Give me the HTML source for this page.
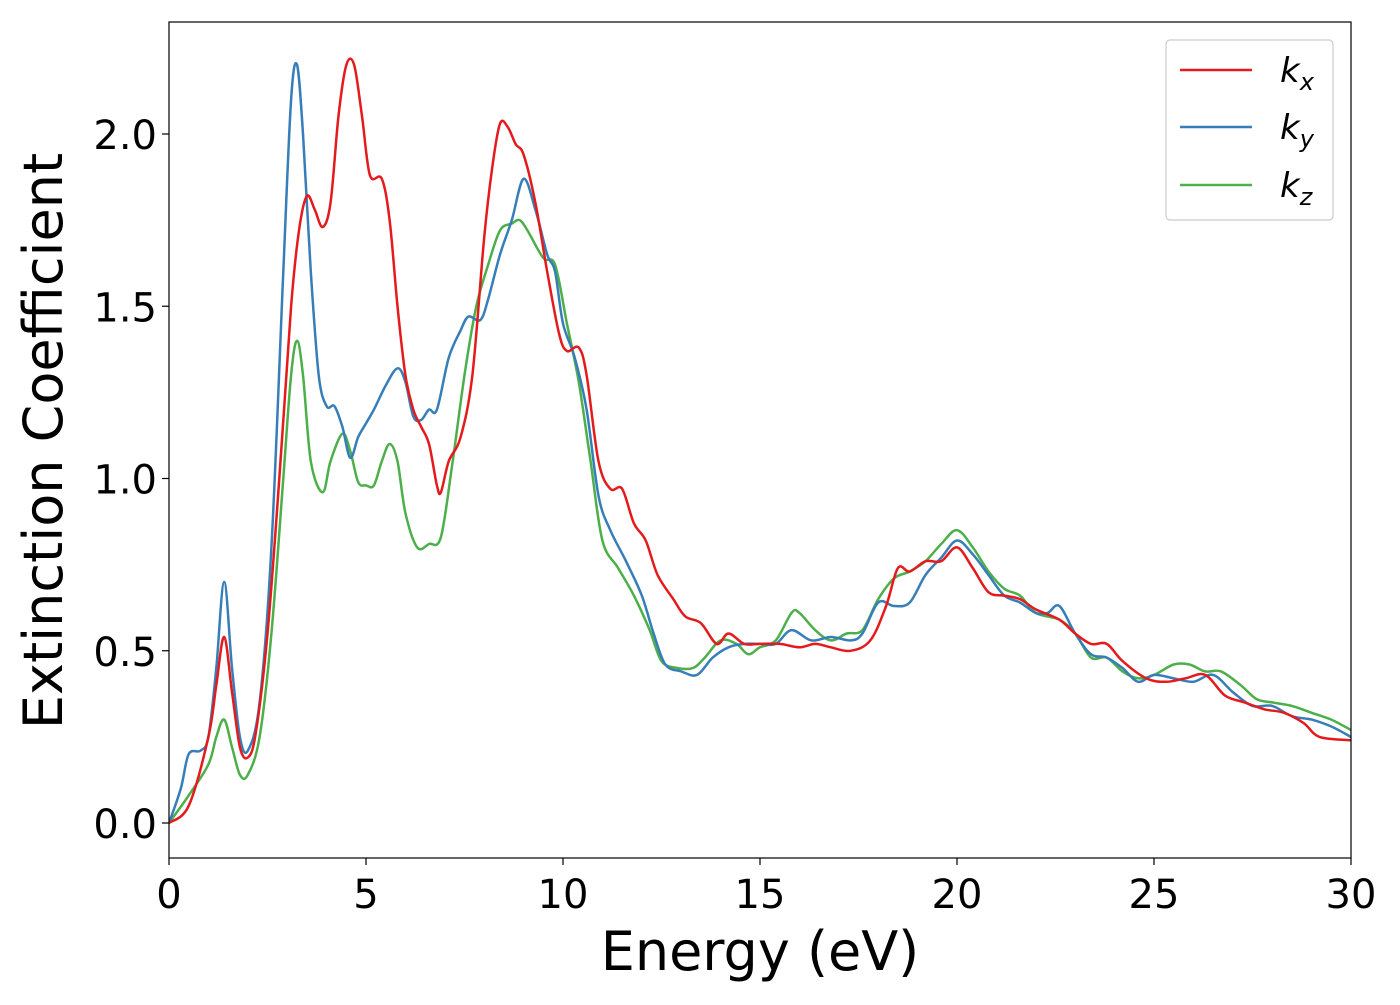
<!DOCTYPE html>
<html><head><meta charset="utf-8"><style>
body{margin:0;background:#fff;}
svg text{font-family:"DejaVu Sans","Liberation Sans",sans-serif;fill:#000;}
</style></head><body>
<svg width="1400" height="1000" viewBox="0 0 1400 1000" xmlns="http://www.w3.org/2000/svg">
<rect x="0" y="0" width="1400" height="1000" fill="#fff"/>
<g id="series"></g>
<rect x="169" y="22" width="1182" height="836" fill="none" stroke="#000" stroke-width="1.2"/>
<g id="xticks"></g>
<g id="yticks"></g>
<text x="760" y="970" font-size="54" text-anchor="middle">Energy (eV)</text>
<text transform="translate(62,441) rotate(-90)" font-size="54" text-anchor="middle">Extinction Coefficient</text>
<g>
<rect x="1166" y="40" width="167" height="180" rx="4" fill="#fff" fill-opacity="0.8" stroke="#ccc" stroke-width="1.2"/>
<line x1="1180" y1="70" x2="1252" y2="70" stroke="#e41a1c" stroke-width="2.5"/>
<text x="1280" y="82" font-size="34" font-style="italic">k<tspan font-size="24" dy="8">x</tspan></text>
<line x1="1180" y1="127" x2="1252" y2="127" stroke="#377eb8" stroke-width="2.5"/>
<text x="1280" y="139" font-size="34" font-style="italic">k<tspan font-size="24" dy="8">y</tspan></text>
<line x1="1180" y1="185" x2="1252" y2="185" stroke="#4daf4a" stroke-width="2.5"/>
<text x="1280" y="197" font-size="34" font-style="italic">k<tspan font-size="24" dy="8">z</tspan></text>
</g>
</svg>
<script>
const xTicks=[0,5,10,15,20,25,30];
const yTicks=[0.0,0.5,1.0,1.5,2.0];
const kxE=[0,0.5,1.0,1.2,1.4,1.6,1.8,2.0,2.2,2.5,2.8,3.1,3.3,3.5,3.7,3.9,4.1,4.3,4.5,4.7,4.9,5.1,5.4,5.6,5.8,6.0,6.2,6.4,6.6,6.8,6.9,7.1,7.4,7.7,8.0,8.2,8.4,8.6,8.8,9.0,9.3,9.6,9.9,10.1,10.4,10.6,10.9,11.2,11.5,11.8,12.1,12.4,12.8,13.1,13.5,13.9,14.2,14.6,15.0,15.5,16.0,16.4,16.8,17.3,17.8,18.2,18.5,18.8,19.2,19.6,20.0,20.4,20.8,21.2,21.6,22.0,22.6,23.0,23.4,23.8,24.2,24.8,25.3,25.8,26.3,26.8,27.3,27.8,28.3,28.8,29.2,30];
const kxV=[0,0.05,0.25,0.4,0.54,0.38,0.22,0.19,0.26,0.55,1.0,1.5,1.72,1.82,1.78,1.73,1.8,2.05,2.2,2.2,2.05,1.88,1.87,1.75,1.5,1.3,1.2,1.15,1.1,0.98,0.96,1.05,1.12,1.3,1.7,1.9,2.03,2.02,1.97,1.94,1.8,1.6,1.42,1.37,1.38,1.3,1.05,0.97,0.97,0.87,0.82,0.72,0.65,0.6,0.58,0.52,0.55,0.52,0.52,0.52,0.51,0.52,0.51,0.5,0.53,0.63,0.74,0.73,0.76,0.76,0.8,0.74,0.67,0.66,0.65,0.62,0.59,0.55,0.52,0.52,0.47,0.42,0.41,0.42,0.43,0.37,0.35,0.33,0.32,0.29,0.25,0.24];
const kyE=[0,0.3,0.5,0.8,1.0,1.2,1.4,1.6,1.8,2.0,2.3,2.6,2.9,3.1,3.25,3.4,3.6,3.8,4.0,4.2,4.4,4.6,4.8,5.0,5.2,5.5,5.8,6.0,6.2,6.4,6.6,6.8,7.1,7.4,7.6,7.9,8.1,8.4,8.7,9.0,9.3,9.6,9.8,10.0,10.3,10.6,10.9,11.2,11.6,12.0,12.3,12.6,13.0,13.4,13.8,14.2,14.6,15.0,15.4,15.8,16.3,16.8,17.3,17.6,18.0,18.4,18.8,19.2,19.6,20.0,20.4,20.8,21.2,21.6,22.0,22.3,22.6,23.0,23.4,23.8,24.2,24.6,25.0,25.5,26.0,26.5,27.0,27.5,28.0,28.5,29.0,29.5,30];
const kyV=[0,0.1,0.2,0.21,0.25,0.45,0.7,0.45,0.25,0.21,0.35,0.8,1.6,2.1,2.2,2.0,1.6,1.3,1.21,1.21,1.15,1.06,1.12,1.16,1.2,1.27,1.32,1.28,1.18,1.17,1.2,1.2,1.35,1.43,1.47,1.46,1.52,1.65,1.75,1.87,1.78,1.65,1.6,1.45,1.35,1.2,0.95,0.85,0.76,0.66,0.55,0.46,0.44,0.43,0.48,0.51,0.52,0.52,0.52,0.56,0.53,0.54,0.53,0.55,0.64,0.63,0.64,0.72,0.77,0.82,0.78,0.72,0.66,0.64,0.61,0.61,0.63,0.55,0.49,0.48,0.45,0.41,0.43,0.42,0.41,0.43,0.38,0.34,0.34,0.31,0.3,0.28,0.25];
const kzE=[0,0.5,1.0,1.2,1.4,1.6,1.8,2.0,2.3,2.6,2.9,3.1,3.25,3.4,3.6,3.9,4.1,4.4,4.6,4.8,5.0,5.2,5.4,5.6,5.8,6.0,6.3,6.6,6.9,7.2,7.5,7.8,8.1,8.4,8.7,8.9,9.1,9.5,9.8,10.1,10.4,10.7,11.0,11.4,11.8,12.2,12.5,12.9,13.3,13.6,14.0,14.4,14.7,15.0,15.4,15.8,16.0,16.4,16.8,17.2,17.6,18.0,18.4,18.8,19.2,19.6,20.0,20.4,20.8,21.2,21.6,22.0,22.6,23.0,23.4,23.8,24.2,24.6,25.0,25.5,25.9,26.3,26.7,27.2,27.6,28.0,28.5,29.0,29.5,30];
const kzV=[0,0.08,0.17,0.25,0.3,0.22,0.14,0.14,0.25,0.55,1.0,1.3,1.4,1.3,1.05,0.96,1.05,1.13,1.08,0.99,0.98,0.98,1.05,1.1,1.05,0.9,0.8,0.81,0.83,1.05,1.3,1.5,1.62,1.72,1.74,1.75,1.72,1.64,1.62,1.45,1.28,1.05,0.82,0.74,0.66,0.56,0.47,0.45,0.45,0.48,0.53,0.52,0.49,0.51,0.53,0.61,0.61,0.56,0.53,0.55,0.56,0.65,0.71,0.73,0.76,0.81,0.85,0.8,0.73,0.68,0.66,0.61,0.59,0.55,0.48,0.48,0.44,0.42,0.43,0.46,0.46,0.44,0.44,0.4,0.36,0.35,0.34,0.32,0.3,0.27];
const X0=169,X1=1351,XMIN=0,XMAX=30;
const Y0=823,YPER=344.5;
function sx(v){return X0+(v-XMIN)/(XMAX-XMIN)*(X1-X0);}
function sy(v){return Y0-v*YPER;}
const NS="http://www.w3.org/2000/svg";
function smoothPath(xs,ys){
  const p=xs.map((x,i)=>[sx(x),sy(ys[i])]);
  let d="M"+p[0][0].toFixed(1)+","+p[0][1].toFixed(1);
  for(let i=0;i<p.length-1;i++){
    const a=p[Math.max(i-1,0)],b=p[i],c=p[i+1],e=p[Math.min(i+2,p.length-1)];
    const c1=[b[0]+(c[0]-a[0])/6,b[1]+(c[1]-a[1])/6];
    const c2=[c[0]-(e[0]-b[0])/6,c[1]-(e[1]-b[1])/6];
    d+=" C"+c1[0].toFixed(1)+","+c1[1].toFixed(1)+" "+c2[0].toFixed(1)+","+c2[1].toFixed(1)+" "+c[0].toFixed(1)+","+c[1].toFixed(1);
  }
  return d;
}
const g=document.getElementById("series");
const clip=document.createElementNS(NS,"clipPath");clip.setAttribute("id","pc");
const cr=document.createElementNS(NS,"rect");cr.setAttribute("x",169);cr.setAttribute("y",22);cr.setAttribute("width",1182);cr.setAttribute("height",836);
clip.appendChild(cr);g.appendChild(clip);
[[kzE,kzV,"#4daf4a","line-kz"],[kyE,kyV,"#377eb8","line-ky"],[kxE,kxV,"#e41a1c","line-kx"]].forEach(s=>{
  const path=document.createElementNS(NS,"path");
  path.setAttribute("d",smoothPath(s[0],s[1]));
  path.setAttribute("fill","none");path.setAttribute("stroke",s[2]);path.setAttribute("stroke-width","2.5");
  path.setAttribute("clip-path","url(#pc)");
  
  
  g.appendChild(path);
});
const xt=document.getElementById("xticks");
xTicks.forEach(v=>{
  const l=document.createElementNS(NS,"line");
  l.setAttribute("x1",sx(v));l.setAttribute("x2",sx(v));l.setAttribute("y1",858);l.setAttribute("y2",865);l.setAttribute("stroke","#000");l.setAttribute("stroke-width","1.2");
  
  
  xt.appendChild(l);
  const t=document.createElementNS(NS,"text");
  t.setAttribute("x",sx(v));t.setAttribute("y",908);t.setAttribute("font-size","40");t.setAttribute("text-anchor","middle");
  t.textContent=String(v);
  
  
  xt.appendChild(t);
});
const yt=document.getElementById("yticks");
yTicks.forEach(v=>{
  const l=document.createElementNS(NS,"line");
  l.setAttribute("x1",162);l.setAttribute("x2",169);l.setAttribute("y1",sy(v));l.setAttribute("y2",sy(v));l.setAttribute("stroke","#000");l.setAttribute("stroke-width","1.2");
  
  
  yt.appendChild(l);
  const t=document.createElementNS(NS,"text");
  t.setAttribute("x",157);t.setAttribute("y",sy(v)+15);t.setAttribute("font-size","40");t.setAttribute("text-anchor","end");
  t.textContent=v.toFixed(1);
  
  
  yt.appendChild(t);
});
</script>
</body></html>
